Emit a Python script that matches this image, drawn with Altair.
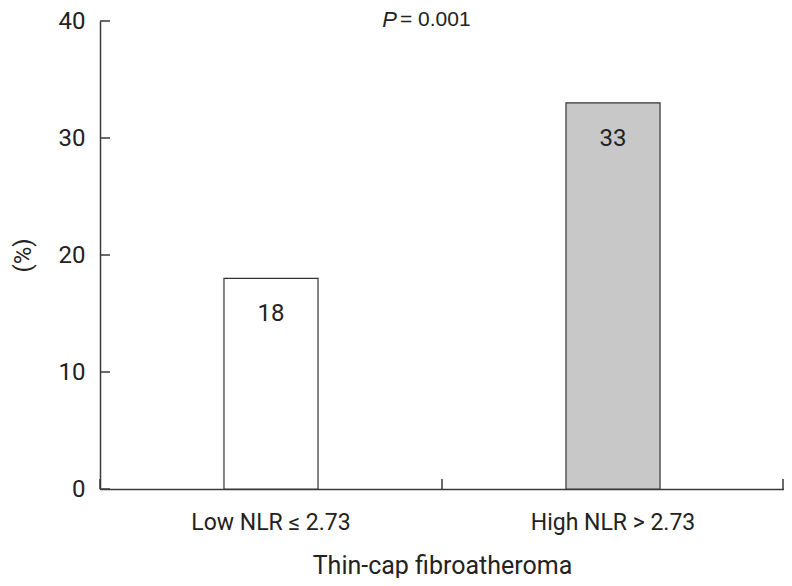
import altair as alt
import pandas as pd

categories = ["Low NLR ≤ 2.73", "High NLR > 2.73"]
values = [18, 33]
bar_colors = ["#ffffff", "#c8c8c8"]
y_ticks = [0, 10, 20, 30, 40]
p_letter = "P"
p_rest = "= 0.001"

df = pd.DataFrame({"group": categories, "pct": values, "color": bar_colors})
ticks_df = pd.DataFrame({"t": y_ticks})
end_df = pd.DataFrame({"k": [1]})
p_df = pd.DataFrame({"p": [p_letter], "rest": [p_rest]})

FONT = "Roboto, Liberation Sans, sans-serif"
PFONT = "Liberation Sans, Arial, sans-serif"
AX = "#3a3a3a"
W, H = 684, 468

xenc = alt.X(
    "group:N",
    sort=categories,
    scale=alt.Scale(paddingInner=0, paddingOuter=0),
    axis=alt.Axis(
        title="Thin-cap fibroatheroma",
        labelAngle=0,
        labelLimit=0,
        ticks=False,
        labelFont=FONT,
        labelFontSize=23,
        labelColor="#222",
        labelPadding=22,
        titleFont=FONT,
        titleFontSize=25,
        titleFontWeight="normal",
        titleColor="#222",
        titlePadding=19,
        domainColor=AX,
        domainWidth=1.5,
    ),
)
yenc = alt.Y(
    "pct:Q",
    scale=alt.Scale(domain=[0, 40], nice=False),
    axis=alt.Axis(
        values=y_ticks,
        ticks=False,
        grid=False,
        title="(%)",
        labelFont=FONT,
        labelFontSize=24,
        labelColor="#222",
        labelPadding=15,
        titleFont=FONT,
        titleFontSize=24,
        titleFontWeight="normal",
        titleColor="#222",
        titlePadding=23,
        domainColor=AX,
        domainWidth=1.5,
    ),
)

bars = alt.Chart(df).mark_bar(
    stroke="#333", strokeWidth=1.2, width=alt.RelativeBandSize(0.275)
).encode(x=xenc, y=yenc, fill=alt.Fill("color:N", scale=None))

bar_text = alt.Chart(df).mark_text(
    dy=36, baseline="middle", font=FONT, fontSize=24, color="#222"
).encode(x=alt.X("group:N", sort=categories), y="pct:Q", text="pct:Q")

ytick_rules = alt.Chart(ticks_df).mark_rule(color=AX, strokeWidth=1.5).encode(
    y="t:Q", x=alt.value(0), x2=alt.value(10)
)

xtick_rules = alt.Chart(df).mark_rule(color=AX, strokeWidth=1.5).encode(
    x=alt.X("group:N", sort=categories, bandPosition=0),
    y=alt.value(H),
    y2=alt.value(H - 10),
)

xtick_end = alt.Chart(end_df).mark_rule(color=AX, strokeWidth=1.5).encode(
    x=alt.value(W - 1), y=alt.value(H), y2=alt.value(H - 10)
)

p_text = alt.Chart(p_df).mark_text(
    align="right", baseline="middle", font=PFONT, fontSize=22, fontStyle="italic", color="#222"
).encode(text="p:N", x=alt.value(297), y=alt.value(-1))

rest_text = alt.Chart(p_df).mark_text(
    align="left", baseline="middle", font=PFONT, fontSize=21, color="#222"
).encode(text="rest:N", x=alt.value(300), y=alt.value(-1))

chart = (
    alt.layer(bars, bar_text, ytick_rules, xtick_rules, xtick_end, p_text, rest_text)
    .properties(
        width=W,
        height=H,
        autosize=alt.AutoSizeParams(type="none"),
        padding={"left": 92, "top": 13, "right": 0, "bottom": 89},
    )
    .configure_view(stroke=None)
)

chart.save("out.html", embed_options={"renderer": "svg", "actions": False})
